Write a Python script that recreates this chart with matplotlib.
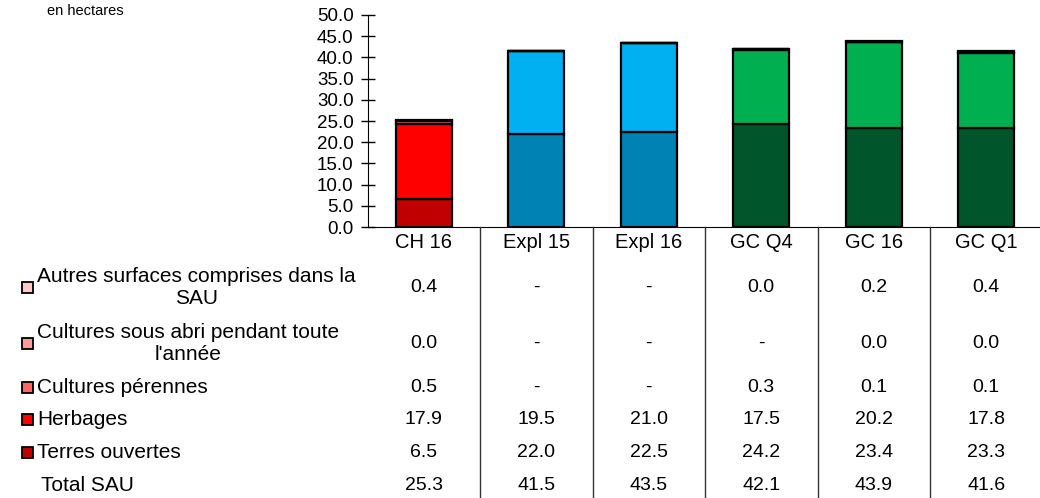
import numpy as np
import matplotlib
matplotlib.use("Agg")
import matplotlib.pyplot as plt
from matplotlib.patches import Rectangle
from matplotlib.lines import Line2D
from matplotlib.transforms import blended_transform_factory

plt.rcParams['font.family'] = ['Liberation Sans', 'DejaVu Sans']

# data (None = "-")
categories = ['CH 16', 'Expl 15', 'Expl 16', 'GC Q4', 'GC 16', 'GC Q1']
terres = [6.5, 22.0, 22.5, 24.2, 23.4, 23.3]
herbages = [17.9, 19.5, 21.0, 17.5, 20.2, 17.8]
perennes = [0.5, None, None, 0.3, 0.1, 0.1]
sous_abri = [0.0, None, None, None, 0.0, 0.0]
autres = [0.4, None, None, 0.0, 0.2, 0.4]
total = [25.3, 41.5, 43.5, 42.1, 43.9, 41.6]

series_labels = ['Autres surfaces comprises dans la\nSAU',
                 "Cultures sous abri pendant toute\nl'année",
                 'Cultures pérennes', 'Herbages', 'Terres ouvertes']
legend_colors = ['#FFC9C9', '#FF9B9B', '#FF6565', '#FF0000', '#C00000']

# colours per group of columns: terres, herbages, perennes, sous abri, autres
group_colors = {
    'CH': ['#C00000', '#FF0000', '#FF6565', '#FF9B9B', '#FFC9C9'],
    'Expl': ['#0083B4', '#00B0F0', '#66CCF5', '#99DDF8', '#CCEEFB'],
    'GC': ['#00552A', '#00B050', '#66D096', '#99DFB9', '#CCEFDC'],
}

W, H = 1040, 498
fig = plt.figure(figsize=(W / 100, H / 100), dpi=100)
ax = fig.add_axes([367.5 / W, 1 - 227 / H, 675 / W, 212 / H])

def val(v):
    return 0.0 if v is None else v

x = np.arange(len(categories))
stack = [terres, herbages, perennes, sous_abri, autres]
bottom = np.zeros(len(categories))
for k, s in enumerate(stack):
    vals = np.array([val(v) for v in s])
    cols = [group_colors[c.split()[0]][k] for c in categories]
    ax.bar(x, vals, 0.5, bottom=bottom, color=cols, edgecolor='black', linewidth=1.6)
    bottom += vals

ax.set_xlim(-0.5, len(categories) - 0.5)
ax.set_ylim(0, 50)
ax.set_yticks(np.arange(0, 51, 5))
ax.set_yticklabels(['%.1f' % t for t in np.arange(0, 51, 5)], fontsize=13.5)
ax.tick_params(axis='y', direction='inout', length=10, width=1, pad=5)
ax.set_xticks([])
ax.spines['top'].set_visible(False)
ax.spines['right'].set_visible(False)

fig.text(47 / W, 1 - 11 / H, 'en hectares', fontsize=10.5, va='center', ha='left')

# data table under the chart
trans = blended_transform_factory(ax.transData, fig.transFigure)
header_y = 1 - 242 / H
row_y = [1 - p / H for p in [287, 343, 387, 419, 452, 485]]
rows = [autres, sous_abri, perennes, herbages, terres, total]

for i, c in enumerate(categories):
    fig.text(i, header_y, c, transform=trans, ha='center', va='center', fontsize=14.5)
    for r, y in zip(rows, row_y):
        s = '-' if r[i] is None else '%.1f' % r[i]
        fig.text(i, y, s, transform=trans, ha='center', va='center', fontsize=14)

for i in range(len(categories) - 1):
    fig.add_artist(Line2D([i + 0.5, i + 0.5], [1 - 227 / H, 0], transform=trans,
                          color='#333333', linewidth=1))

for lab, col, y in zip(series_labels, legend_colors, row_y):
    fig.patches.append(Rectangle((22 / W, y - 5.5 / H), 11 / W, 11 / H,
                                 transform=fig.transFigure, facecolor=col,
                                 edgecolor='black', linewidth=1.3))
    fig.text(37 / W, y, lab, ha='left', va='center', multialignment='center',
             fontsize=15, linespacing=1.2)
fig.text(41 / W, row_y[-1], 'Total SAU', ha='left', va='center', fontsize=15)

fig.savefig('out.png', dpi=100)
